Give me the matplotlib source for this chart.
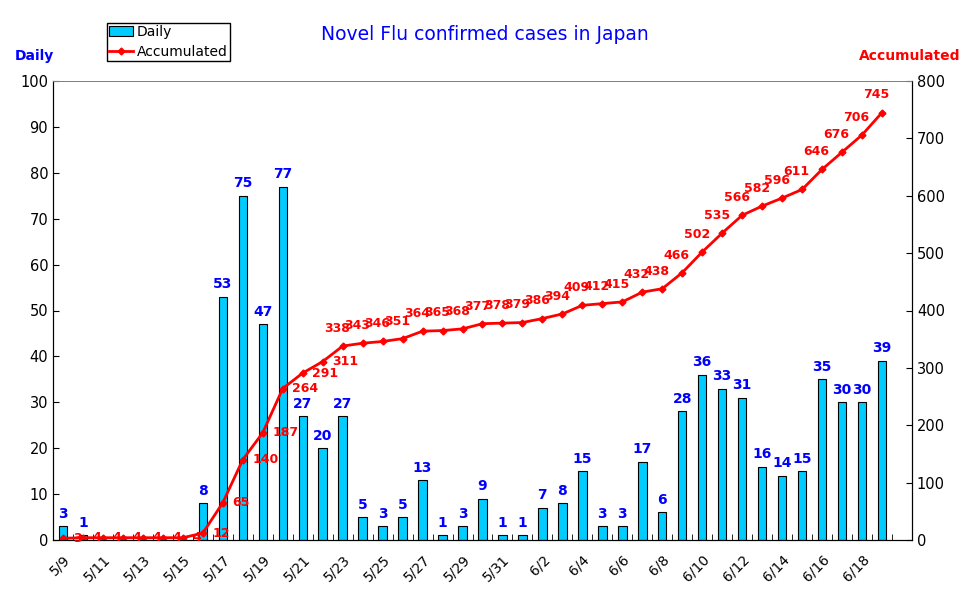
import matplotlib.pyplot as plt
import matplotlib.transforms as mtransforms
import numpy as np
import datetime as dt

# daily confirmed cases, 5/9 .. 6/19
daily = [3, 1, 0, 0, 0, 0, 0, 8, 53, 75, 47, 77, 27, 20, 27, 5, 3, 5, 13, 1, 3,
         9, 1, 1, 7, 8, 15, 3, 3, 17, 6, 28, 36, 33, 31, 16, 14, 15, 35, 30, 30, 39]
accumulated = [3, 4, 4, 4, 4, 4, 4, 12, 65, 140, 187, 264, 291, 311, 338, 343, 346,
               351, 364, 365, 368, 377, 378, 379, 386, 394, 409, 412, 415, 432, 438,
               466, 502, 535, 566, 582, 596, 611, 646, 676, 706, 745]
start = dt.date(2009, 5, 9)
dates = [start + dt.timedelta(days=i) for i in range(len(daily))]
date_labels = [f"{d.month}/{d.day}" for d in dates]

W, H = 970, 603
fig = plt.figure(figsize=(W / 100, H / 100), dpi=100)
ax = fig.add_axes([53 / W, (H - 540) / H, (912 - 53) / W, (540 - 81) / H])
ax2 = ax.twinx()

x = np.arange(len(daily))
bars = ax.bar(x, daily, width=0.42, color='#00CCFF', edgecolor='black', linewidth=0.8,
              label='Daily')
line, = ax2.plot(x, accumulated, color='#FF0000', lw=2, marker='D', ms=3.5,
                 label='Accumulated')

ax.set_xlim(-0.5, 42.5)
ax.set_ylim(0, 100)
ax2.set_ylim(0, 800)
ax.set_yticks(range(0, 101, 10))
ax2.set_yticks(range(0, 801, 100))

ax.set_xticks(x[::2])
ax.set_xticklabels(date_labels[::2], rotation=45, ha='right', rotation_mode='anchor',
                   fontsize=10)
shift = mtransforms.ScaledTranslation(-8 / 100, 0, fig.dpi_scale_trans)
for lab in ax.get_xticklabels():
    lab.set_transform(lab.get_transform() + shift)
ax.set_xticks(np.arange(-0.5, 43, 1), minor=True)
ax.tick_params(axis='x', which='major', length=0, pad=9)
ax.tick_params(axis='x', which='minor', direction='in', length=4)
ax.tick_params(axis='y', direction='in', length=4, labelsize=10.5)
ax2.tick_params(axis='y', direction='in', length=4, labelsize=10.5)

for a in (ax, ax2):
    a.spines['top'].set_linestyle((0, (1, 1)))
    a.spines['top'].set_color('#808080')
    a.spines['top'].set_linewidth(0.7)

# value labels
for i, v in enumerate(daily):
    if v > 0:
        ax.text(i, v + 1.2, str(v), color='#0000FF', fontsize=10, fontweight='bold',
                ha='center', va='bottom')
for i, v in enumerate(accumulated):
    if i <= 13:
        ax2.annotate(str(v), (i, v), xytext=(7, 0), textcoords='offset points',
                     color='#FF0000', fontsize=9, fontweight='bold', ha='left', va='center')
    else:
        ax2.annotate(str(v), (i, v), xytext=(-4, 8), textcoords='offset points',
                     color='#FF0000', fontsize=9, fontweight='bold', ha='center', va='bottom')

fig.text(485 / W, 1 - 35 / H, 'Novel Flu confirmed cases in Japan', color='#0000FF',
         fontsize=13.5, ha='center', va='center')
fig.text(15 / W, 1 - 56 / H, 'Daily', color='#0000FF', fontsize=10, fontweight='bold',
         ha='left', va='center')
fig.text(960 / W, 1 - 56 / H, 'Accumulated', color='#FF0000', fontsize=10,
         fontweight='bold', ha='right', va='center')

leg = ax.legend([bars, line], ['Daily', 'Accumulated'], loc='upper left',
                bbox_to_anchor=(107 / W, 1 - 23 / H), bbox_transform=fig.transFigure,
                fancybox=False, edgecolor='black', framealpha=1, fontsize=10,
                borderpad=0.15, labelspacing=0.45, handlelength=1.7, handletextpad=0.3,
                borderaxespad=0)
leg.get_frame().set_linewidth(1)
leg.set_zorder(10)

fig.savefig('out.png', dpi=100)
